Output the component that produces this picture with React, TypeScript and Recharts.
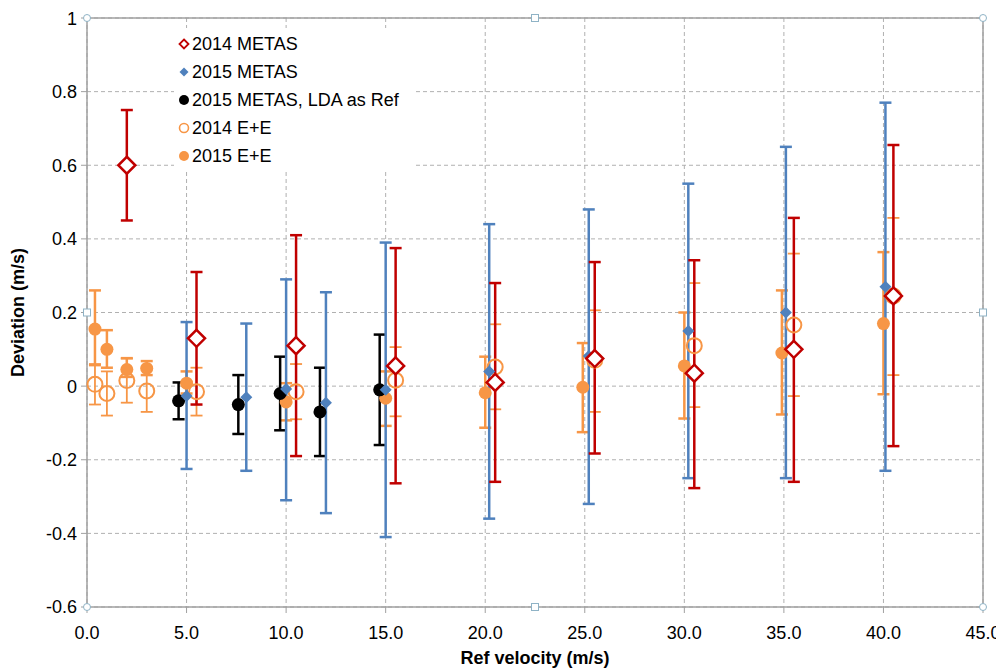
import React from "react";
import {
  ScatterChart,
  Scatter,
  XAxis,
  YAxis,
  CartesianGrid,
  ErrorBar,
  Legend,
  ReferenceLine,
  ReferenceDot,
} from "recharts";

// 2014 METAS (open red diamond)
const metas14X = [2.0, 5.5, 10.5, 15.5, 20.5, 25.5, 30.5, 35.5, 40.5];
const metas14Y = [0.6, 0.13, 0.11, 0.055, 0.01, 0.075, 0.035, 0.1, 0.245];
const metas14Lo = [0.45, -0.05, -0.19, -0.264, -0.26, -0.183, -0.277, -0.26, -0.163];
const metas14Hi = [0.75, 0.31, 0.41, 0.375, 0.28, 0.337, 0.342, 0.457, 0.655];

// 2015 METAS (filled blue diamond)
const metas15X = [5.0, 8.0, 10.0, 12.0, 15.0, 20.2, 25.2, 30.2, 35.1, 40.1];
const metas15Y = [-0.027, -0.03, -0.008, -0.045, -0.01, 0.04, 0.082, 0.15, 0.2, 0.27];
const metas15Lo = [-0.225, -0.23, -0.31, -0.345, -0.41, -0.36, -0.32, -0.25, -0.25, -0.23];
const metas15Hi = [0.174, 0.17, 0.29, 0.255, 0.39, 0.44, 0.48, 0.55, 0.65, 0.77];

// 2015 METAS, LDA as Ref (black dot)
const ldaX = [4.6, 7.6, 9.7, 11.7, 14.7];
const ldaY = [-0.04, -0.05, -0.02, -0.07, -0.01];
const ldaLo = [-0.09, -0.13, -0.12, -0.19, -0.16];
const ldaHi = [0.01, 0.03, 0.08, 0.05, 0.14];

// 2014 E+E (open orange circle)
const ee14X = [0.4, 1.0, 2.0, 3.0, 5.5, 10.5, 15.5, 20.5, 25.5, 30.5, 35.5, 40.5];
const ee14Y = [0.005, -0.02, 0.015, -0.013, -0.015, -0.015, 0.016, 0.052, 0.07, 0.11, 0.166, 0.245];
const ee14Lo = [-0.05, -0.08, -0.045, -0.07, -0.08, -0.09, -0.082, -0.063, -0.07, -0.057, -0.027, 0.03];
const ee14Hi = [0.06, 0.04, 0.075, 0.05, 0.05, 0.06, 0.106, 0.168, 0.206, 0.28, 0.36, 0.457];

// 2015 E+E (filled orange circle)
const ee15X = [0.4, 1.0, 2.0, 3.0, 5.0, 10.0, 15.0, 20.0, 24.9, 30.0, 34.9, 40.0];
const ee15Y = [0.155, 0.1, 0.045, 0.048, 0.008, -0.043, -0.033, -0.018, -0.003, 0.055, 0.09, 0.17];
const ee15Lo = [0.057, 0.05, 0.025, 0.03, -0.02, -0.093, -0.108, -0.113, -0.125, -0.088, -0.077, -0.022];
const ee15Hi = [0.26, 0.152, 0.076, 0.068, 0.04, 0.008, 0.04, 0.08, 0.117, 0.2, 0.26, 0.364];

const xTicks = [0, 5, 10, 15, 20, 25, 30, 35, 40, 45];
const yTicks = [-0.6, -0.4, -0.2, 0, 0.2, 0.4, 0.6, 0.8, 1];

const RED = "#C00000";
const BLUE = "#4F81BD";
const ORANGE = "#F79646";
const BLACK = "#000000";
const FONT = "Liberation Sans, Arial, sans-serif";

const build = (xs: number[], ys: number[], lo: number[], hi: number[]) =>
  xs.map((x, i) => ({ x, y: ys[i], err: [ys[i] - lo[i], hi[i] - ys[i]] }));

const openDiamond = (p: any) => (
  <path
    d={`M${p.cx},${p.cy - 8.5} L${p.cx + 8.5},${p.cy} L${p.cx},${p.cy + 8.5} L${p.cx - 8.5},${p.cy} Z`}
    fill="#fff"
    stroke={RED}
    strokeWidth={2.5}
  />
);
const filledDiamond = (p: any) => (
  <path
    d={`M${p.cx},${p.cy - 6} L${p.cx + 6},${p.cy} L${p.cx},${p.cy + 6} L${p.cx - 6},${p.cy} Z`}
    fill={BLUE}
  />
);
const blackDot = (p: any) => <circle cx={p.cx} cy={p.cy} r={6.5} fill={BLACK} />;
const openCircle = (p: any) => (
  <circle cx={p.cx} cy={p.cy} r={7.5} fill="none" stroke={ORANGE} strokeWidth={2} />
);
const orangeDot = (p: any) => <circle cx={p.cx} cy={p.cy} r={6.5} fill={ORANGE} />;

const legendItems = [
  { name: "2014 METAS", icon: <path d="M6,1.5 L10.5,6 L6,10.5 L1.5,6 Z" fill="#fff" stroke={RED} strokeWidth={1.8} /> },
  { name: "2015 METAS", icon: <path d="M6,1.5 L10.5,6 L6,10.5 L1.5,6 Z" fill={BLUE} /> },
  { name: "2015 METAS, LDA as Ref", icon: <circle cx={6} cy={6} r={5} fill={BLACK} /> },
  { name: "2014 E+E", icon: <circle cx={6} cy={6} r={4.5} fill="none" stroke={ORANGE} strokeWidth={1.6} /> },
  { name: "2015 E+E", icon: <circle cx={6} cy={6} r={5} fill={ORANGE} /> },
];

const renderLegend = () => (
  <div style={{ background: "#fff", padding: "2px 4px", fontFamily: FONT }}>
    {legendItems.map((it) => (
      <div key={it.name} style={{ display: "flex", alignItems: "center", height: 28, fontSize: 18, color: "#000" }}>
        <svg width={12} height={12} style={{ marginRight: 2 }}>
          {it.icon}
        </svg>
        {it.name}
      </div>
    ))}
  </div>
);

const handle = (kind: "c" | "s") => (p: any) =>
  kind === "c" ? (
    <circle cx={p.cx} cy={p.cy} r={3.5} fill="#fff" stroke="#8fb3c6" strokeWidth={1} />
  ) : (
    <rect x={p.cx - 3.5} y={p.cy - 3.5} width={7} height={7} fill="#fff" stroke="#8fb3c6" strokeWidth={1} />
  );

export default function App() {
  const tickStyle = { fontSize: 18, fill: "#000", fontFamily: FONT };
  return (
    <div style={{ width: 996, height: 660, background: "#fff" }}>
      <ScatterChart width={996} height={660} margin={{ top: 10, right: 21, left: 19, bottom: 4 }}>
        <CartesianGrid stroke="#b0b0b0" strokeDasharray="4 3" />
        <XAxis
          type="number"
          dataKey="x"
          domain={[0, 45]}
          ticks={xTicks}
          tickFormatter={(v: number) => v.toFixed(1)}
          tick={tickStyle}
          tickLine={{ stroke: "#a0a0a0" }}
          axisLine={{ stroke: "#a0a0a0", strokeWidth: 1.5 }}
          height={57}
          tickMargin={13}
          label={{
            value: "Ref velocity (m/s)",
            position: "insideBottom",
            offset: 0,
            style: { fontSize: 18, fontWeight: "bold", fill: "#000", fontFamily: FONT },
          }}
        />
        <YAxis
          type="number"
          dataKey="y"
          domain={[-0.6, 1]}
          ticks={yTicks}
          tickFormatter={(v: number) => String(Math.round(v * 10) / 10)}
          tick={tickStyle}
          tickLine={{ stroke: "#a0a0a0" }}
          axisLine={{ stroke: "#a0a0a0", strokeWidth: 1.5 }}
          width={60}
          tickMargin={4}
          label={{
            value: "Deviation (m/s)",
            angle: -90,
            position: "insideLeft",
            offset: -9,
            style: { fontSize: 18, fontWeight: "bold", fill: "#000", textAnchor: "middle", fontFamily: FONT },
          }}
        />
        <ReferenceLine x={45} stroke="#a0a0a0" strokeWidth={1.5} />
        <ReferenceLine y={1} stroke="#a0a0a0" strokeWidth={1.5} />
        <Legend
          layout="vertical"
          verticalAlign="middle"
          align="center"
          content={renderLegend}
          wrapperStyle={{ top: 20, left: 166, width: 240 }}
        />
        <Scatter name="2014 E+E" data={build(ee14X, ee14Y, ee14Lo, ee14Hi)} shape={openCircle} isAnimationActive={false}>
          <ErrorBar dataKey="err" direction="y" width={6} stroke={ORANGE} strokeWidth={1.8} />
        </Scatter>
        <Scatter name="2015 E+E" data={build(ee15X, ee15Y, ee15Lo, ee15Hi)} shape={orangeDot} isAnimationActive={false}>
          <ErrorBar dataKey="err" direction="y" width={6} stroke={ORANGE} strokeWidth={2.5} />
        </Scatter>
        <Scatter name="2015 METAS, LDA as Ref" data={build(ldaX, ldaY, ldaLo, ldaHi)} shape={blackDot} isAnimationActive={false}>
          <ErrorBar dataKey="err" direction="y" width={6} stroke={BLACK} strokeWidth={2.5} />
        </Scatter>
        <Scatter name="2015 METAS" data={build(metas15X, metas15Y, metas15Lo, metas15Hi)} shape={filledDiamond} isAnimationActive={false}>
          <ErrorBar dataKey="err" direction="y" width={6} stroke={BLUE} strokeWidth={2.5} />
        </Scatter>
        <Scatter name="2014 METAS" data={build(metas14X, metas14Y, metas14Lo, metas14Hi)} shape={openDiamond} isAnimationActive={false}>
          <ErrorBar dataKey="err" direction="y" width={6} stroke={RED} strokeWidth={2.5} />
        </Scatter>
        <ReferenceDot x={0} y={1} shape={handle("c")} ifOverflow="visible" />
        <ReferenceDot x={45} y={1} shape={handle("c")} ifOverflow="visible" />
        <ReferenceDot x={0} y={-0.6} shape={handle("c")} ifOverflow="visible" />
        <ReferenceDot x={45} y={-0.6} shape={handle("c")} ifOverflow="visible" />
        <ReferenceDot x={22.5} y={1} shape={handle("s")} ifOverflow="visible" />
        <ReferenceDot x={22.5} y={-0.6} shape={handle("s")} ifOverflow="visible" />
        <ReferenceDot x={0} y={0.2} shape={handle("s")} ifOverflow="visible" />
        <ReferenceDot x={45} y={0.2} shape={handle("s")} ifOverflow="visible" />
      </ScatterChart>
    </div>
  );
}
